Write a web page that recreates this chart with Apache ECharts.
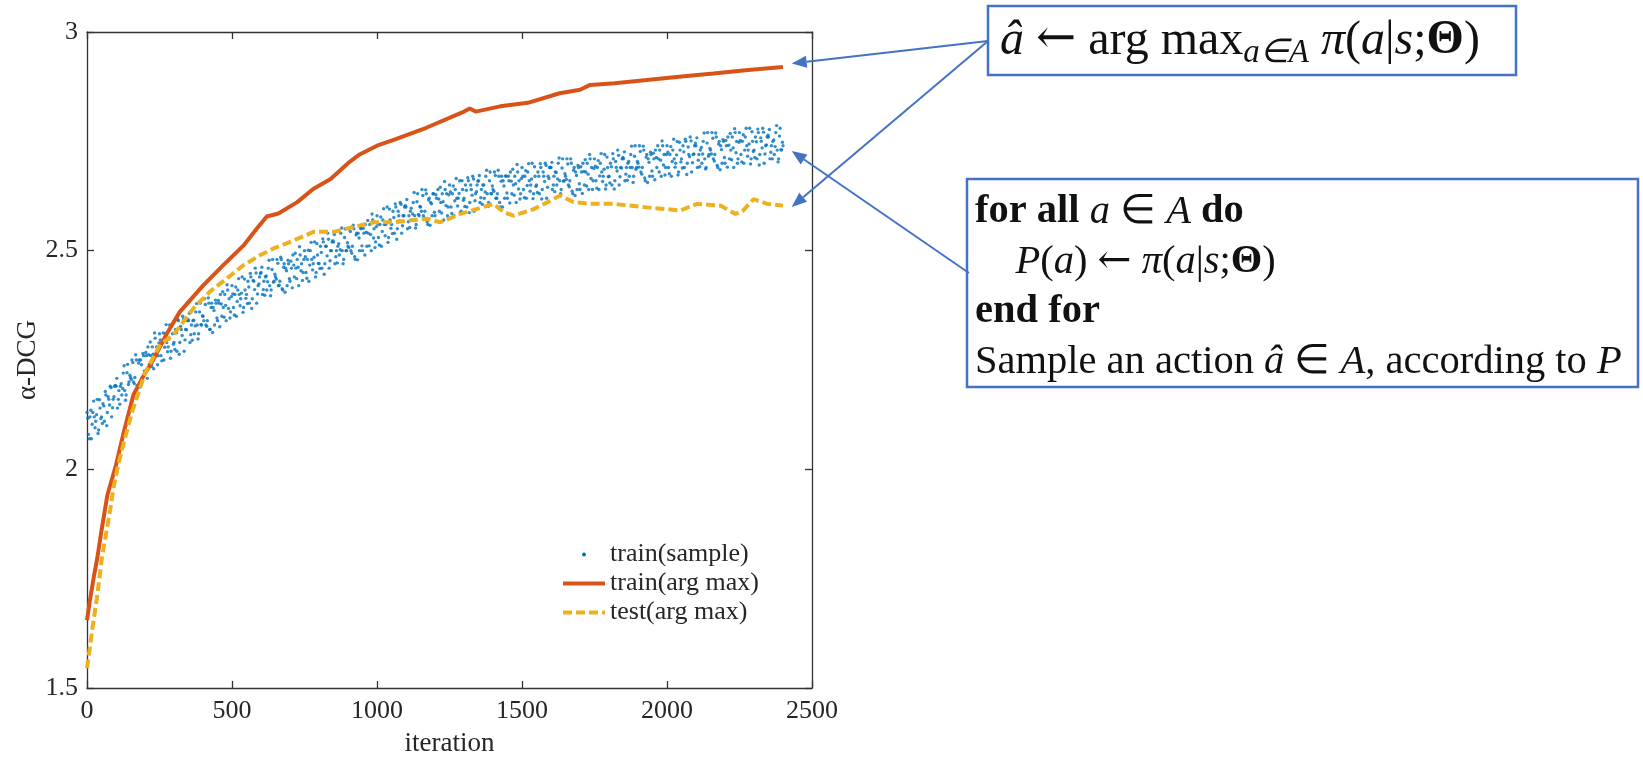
<!DOCTYPE html>
<html>
<head>
<meta charset="utf-8">
<script src="https://cdn.jsdelivr.net/npm/echarts@6/dist/echarts.min.js"></script>
<style>
html,body{margin:0;padding:0;background:#fff;}
#chart{width:1643px;height:762px;}
</style>
</head>
<body>
<div id="chart"></div>
<script>
// ---- data ----
const xTicks = [0, 500, 1000, 1500, 2000, 2500];
const yTicks = [1.5, 2, 2.5, 3];
const seriesNames = ['train(sample)', 'train(arg max)', 'test(arg max)'];

// train(sample): values at iterations 0,5,10,...,2400
const sampleStep = 5;
const sampleValues = [
 2.13,2.08,2.12,2.07,2.13,2.12,2.11,2.16,2.09,2.14,
 2.12,2.15,2.11,2.17,2.13,2.16,2.19,2.12,2.16,2.19,
 2.19,2.14,2.18,2.19,2.17,2.22,2.18,2.17,2.24,2.20,
 2.21,2.25,2.20,2.21,2.25,2.19,2.25,2.25,2.21,2.26,
 2.22,2.26,2.28,2.24,2.26,2.28,2.23,2.30,2.28,2.26,
 2.31,2.26,2.29,2.25,2.31,2.29,2.28,2.33,2.27,2.31,
 2.29,2.32,2.27,2.34,2.29,2.32,2.35,2.27,2.32,2.34,
 2.34,2.29,2.33,2.34,2.31,2.36,2.33,2.31,2.38,2.33,
 2.35,2.39,2.33,2.34,2.38,2.32,2.38,2.37,2.33,2.38,
 2.34,2.38,2.40,2.35,2.37,2.40,2.34,2.41,2.39,2.36,
 2.42,2.37,2.40,2.35,2.41,2.40,2.39,2.44,2.37,2.41,
 2.40,2.43,2.38,2.44,2.39,2.43,2.46,2.38,2.42,2.44,
 2.45,2.40,2.43,2.44,2.41,2.46,2.42,2.41,2.48,2.43,
 2.44,2.48,2.42,2.43,2.48,2.41,2.47,2.46,2.42,2.47,
 2.43,2.46,2.49,2.44,2.46,2.48,2.42,2.49,2.47,2.45,
 2.50,2.45,2.48,2.43,2.50,2.48,2.47,2.52,2.45,2.49,
 2.47,2.51,2.46,2.52,2.47,2.51,2.54,2.46,2.50,2.52,
 2.52,2.47,2.50,2.51,2.49,2.54,2.50,2.48,2.55,2.50,
 2.51,2.55,2.50,2.51,2.55,2.48,2.54,2.54,2.50,2.55,
 2.50,2.54,2.56,2.51,2.54,2.56,2.50,2.57,2.55,2.52,
 2.58,2.53,2.56,2.51,2.57,2.56,2.56,2.60,2.53,2.57,
 2.56,2.59,2.54,2.60,2.55,2.58,2.61,2.54,2.58,2.60,
 2.60,2.55,2.58,2.59,2.57,2.61,2.58,2.56,2.63,2.58,
 2.60,2.64,2.58,2.59,2.63,2.56,2.62,2.61,2.58,2.63,
 2.58,2.62,2.64,2.59,2.61,2.63,2.57,2.64,2.63,2.60,
 2.65,2.60,2.63,2.58,2.64,2.62,2.62,2.66,2.59,2.64,
 2.62,2.65,2.60,2.66,2.61,2.64,2.67,2.59,2.63,2.65,
 2.66,2.61,2.64,2.65,2.62,2.67,2.63,2.61,2.68,2.63,
 2.64,2.68,2.62,2.63,2.67,2.60,2.67,2.66,2.62,2.67,
 2.62,2.66,2.68,2.63,2.65,2.67,2.61,2.68,2.66,2.63,
 2.69,2.64,2.67,2.62,2.68,2.66,2.65,2.70,2.63,2.67,
 2.65,2.68,2.63,2.69,2.64,2.67,2.70,2.62,2.67,2.69,
 2.69,2.64,2.67,2.68,2.65,2.70,2.66,2.64,2.71,2.66,
 2.67,2.71,2.65,2.66,2.70,2.63,2.69,2.68,2.64,2.69,
 2.64,2.68,2.70,2.65,2.68,2.70,2.64,2.71,2.69,2.66,
 2.71,2.66,2.69,2.64,2.70,2.68,2.67,2.72,2.65,2.69,
 2.67,2.70,2.65,2.71,2.66,2.69,2.73,2.65,2.69,2.71,
 2.71,2.66,2.69,2.70,2.67,2.72,2.69,2.67,2.74,2.69,
 2.70,2.74,2.68,2.69,2.73,2.66,2.72,2.71,2.67,2.72,
 2.67,2.71,2.73,2.69,2.71,2.73,2.67,2.74,2.72,2.69,
 2.74,2.69,2.72,2.67,2.73,2.71,2.70,2.75,2.68,2.73,
 2.71,2.74,2.69,2.75,2.70,2.72,2.76,2.68,2.72,2.74,
 2.74,2.69,2.72,2.73,2.70,2.75,2.71,2.69,2.77,2.72,
 2.73,2.77,2.71,2.72,2.76,2.69,2.75,2.74,2.70,2.75,
 2.70,2.74,2.76,2.71,2.73,2.76,2.69,2.77,2.75,2.71,
 2.77,2.72,2.75,2.70,2.76,2.74,2.73,2.78,2.71,2.75,
 2.73,2.76,2.71,2.77,2.72,2.75,2.78,2.70,2.74,2.76,
 2.76,2.71,2.74,2.75,2.72,2.77,2.73,2.71,2.78,2.73,
 2.74
];
// train(sample): more values at iterations 3,8,13,...,2398
const sampleOffsetB = 3;
const sampleValuesB = [
 2.117,2.070,2.135,2.103,2.156,2.095,2.125,2.082,2.159,2.116,
 2.105,2.145,2.178,2.100,2.166,2.147,2.187,2.141,2.166,2.192,
 2.208,2.160,2.149,2.196,2.185,2.237,2.158,2.221,2.194,2.215,
 2.206,2.244,2.196,2.262,2.192,2.243,2.188,2.239,2.265,2.225,
 2.267,2.208,2.262,2.291,2.235,2.263,2.312,2.259,2.239,2.289,
 2.296,2.248,2.312,2.279,2.331,2.269,2.298,2.254,2.330,2.286,
 2.274,2.312,2.343,2.263,2.327,2.306,2.344,2.296,2.319,2.343,
 2.357,2.308,2.295,2.341,2.328,2.379,2.298,2.360,2.331,2.351,
 2.340,2.377,2.327,2.392,2.320,2.370,2.313,2.363,2.387,2.346,
 2.386,2.326,2.378,2.406,2.348,2.375,2.422,2.368,2.346,2.395,
 2.401,2.353,2.417,2.384,2.436,2.374,2.403,2.359,2.435,2.391,
 2.379,2.417,2.448,2.368,2.432,2.411,2.449,2.401,2.424,2.448,
 2.462,2.411,2.398,2.442,2.429,2.478,2.397,2.457,2.428,2.446,
 2.435,2.471,2.421,2.485,2.413,2.462,2.405,2.454,2.478,2.436,
 2.476,2.415,2.467,2.494,2.436,2.462,2.509,2.454,2.432,2.480,
 2.486,2.437,2.501,2.467,2.519,2.456,2.485,2.440,2.516,2.471,
 2.459,2.496,2.527,2.446,2.510,2.488,2.526,2.477,2.500,2.523,
 2.537,2.486,2.472,2.516,2.502,2.552,2.470,2.530,2.500,2.518,
 2.507,2.544,2.494,2.558,2.486,2.536,2.479,2.529,2.552,2.511,
 2.551,2.490,2.542,2.569,2.511,2.537,2.584,2.529,2.507,2.555,
 2.561,2.513,2.577,2.544,2.596,2.534,2.563,2.519,2.595,2.551,
 2.539,2.576,2.607,2.526,2.590,2.568,2.606,2.557,2.580,2.603,
 2.617,2.566,2.553,2.597,2.584,2.633,2.552,2.612,2.583,2.601,
 2.590,2.626,2.575,2.639,2.566,2.616,2.558,2.607,2.630,2.588,
 2.628,2.567,2.618,2.645,2.586,2.612,2.658,2.603,2.580,2.628,
 2.634,2.585,2.648,2.614,2.665,2.602,2.631,2.587,2.660,2.615,
 2.601,2.638,2.667,2.587,2.650,2.627,2.664,2.614,2.635,2.659,
 2.672,2.621,2.606,2.650,2.634,2.684,2.601,2.660,2.631,2.648,
 2.636,2.672,2.620,2.684,2.610,2.659,2.600,2.648,2.671,2.632,
 2.670,2.609,2.659,2.686,2.627,2.653,2.697,2.641,2.618,2.665,
 2.670,2.621,2.683,2.649,2.699,2.636,2.664,2.619,2.692,2.647,
 2.633,2.670,2.699,2.618,2.680,2.658,2.695,2.645,2.665,2.690,
 2.702,2.650,2.635,2.679,2.664,2.712,2.630,2.689,2.659,2.676,
 2.663,2.698,2.646,2.710,2.636,2.684,2.626,2.672,2.695,2.653,
 2.692,2.631,2.681,2.708,2.648,2.675,2.720,2.665,2.640,2.688,
 2.693,2.643,2.706,2.671,2.722,2.658,2.686,2.641,2.714,2.669,
 2.655,2.692,2.722,2.641,2.704,2.682,2.718,2.669,2.689,2.713,
 2.726,2.675,2.661,2.704,2.690,2.739,2.656,2.716,2.686,2.704,
 2.691,2.727,2.675,2.739,2.666,2.714,2.656,2.702,2.725,2.682,
 2.723,2.662,2.713,2.740,2.680,2.707,2.751,2.696,2.673,2.720,
 2.725,2.676,2.738,2.704,2.755,2.691,2.719,2.673,2.748,2.703,
 2.689,2.726,2.755,2.674,2.737,2.715,2.751,2.701,2.721,2.746,
 2.758,2.707,2.692,2.736,2.721,2.769,2.687,2.746,2.716,2.734,
 2.721,2.757,2.705,2.769,2.695,2.744,2.685,2.731,2.754,2.713,
 2.752,2.691,2.741,2.768,2.708,2.735,2.779,2.724,2.700,2.748,
 2.752,2.703,2.765,2.730,2.780,2.716,2.744,2.698,2.772,2.727,
 2.713,2.749,2.778,2.696,2.758,2.735,2.771,2.721,2.742,2.764,
 2.777,2.725,2.710,2.753,2.738,2.786,2.703,2.762,2.731,2.748
];

// train(arg max)
const trainArgIter = [0,10,25,35,50,70,100,125,160,200,220,275,320,400,470,540,585,620,660,725,780,840,900,940,1000,1060,1170,1300,1320,1340,1425,1520,1630,1700,1735,1820,1930,2050,2160,2280,2400];
const trainArgVal  = [1.655,1.70,1.76,1.795,1.86,1.94,2.01,2.08,2.17,2.22,2.24,2.31,2.36,2.42,2.467,2.512,2.55,2.578,2.585,2.611,2.641,2.664,2.70,2.72,2.74,2.754,2.781,2.818,2.825,2.818,2.830,2.838,2.860,2.868,2.879,2.883,2.890,2.898,2.905,2.913,2.920];

// test(arg max)
const testArgIter = [0,17,34,52,80,92,109,126,155,200,253,299,368,425,483,540,598,643,701,781,850,919,988,1057,1172,1218,1287,1402,1437,1471,1540,1598,1632,1678,1735,1816,1931,2046,2103,2184,2236,2260,2299,2345,2400];
const testArgVal  = [1.545,1.628,1.705,1.80,1.908,1.96,2.014,2.059,2.13,2.22,2.286,2.308,2.369,2.407,2.437,2.467,2.49,2.505,2.52,2.543,2.543,2.554,2.565,2.565,2.573,2.565,2.584,2.607,2.588,2.580,2.595,2.614,2.626,2.611,2.607,2.607,2.599,2.592,2.607,2.603,2.584,2.59,2.618,2.607,2.603];

// arrow targets (data coords) just past the end of each curve
const arrowTargets = { trainArg: [2430, 2.928], testArg: [2430, 2.600], sample: [2430, 2.728] };

// ---- chart ----
const FONT = 'Liberation Serif';
const AX = '#333333';
const chart = echarts.init(document.getElementById('chart'), null, { renderer: 'canvas' });

const xBase = { type: 'value', min: xTicks[0], max: xTicks[xTicks.length - 1], interval: 500,
  axisLine: { show: true, onZero: false, lineStyle: { color: AX, width: 1.3 } },
  axisTick: { show: true, inside: true, length: 7, lineStyle: { color: AX, width: 1.3 } },
  splitLine: { show: false } };
const yBase = { type: 'value', min: yTicks[0], max: yTicks[yTicks.length - 1], interval: 0.5,
  axisLine: { show: true, onZero: false, lineStyle: { color: AX, width: 1.3 } },
  axisTick: { show: true, inside: true, length: 7, lineStyle: { color: AX, width: 1.3 } },
  splitLine: { show: false } };

const scatterData = sampleValues.map((v, i) => [i * sampleStep, v])
  .concat(sampleValuesB.map((v, i) => [i * sampleStep + sampleOffsetB, v]));

chart.setOption({
  animation: false,
  backgroundColor: '#ffffff',
  grid: { left: 87, right: 831, top: 32, bottom: 69, containLabel: false },
  xAxis: [
    Object.assign({}, xBase, { position: 'bottom', name: 'iteration', nameLocation: 'middle', nameGap: 42,
      nameTextStyle: { fontFamily: FONT, fontSize: 27, color: '#262626' },
      axisLabel: { margin: 10, fontFamily: FONT, fontSize: 26, color: '#262626', formatter: v => String(v) } }),
    Object.assign({}, xBase, { position: 'top', axisLabel: { show: false } })
  ],
  yAxis: [
    Object.assign({}, yBase, { position: 'left', name: 'α-DCG', nameLocation: 'middle', nameGap: 44, nameRotate: 90,
      nameTextStyle: { fontFamily: FONT, fontSize: 27, color: '#262626' },
      axisLabel: { margin: 9, fontFamily: FONT, fontSize: 26, color: '#262626', formatter: v => String(v) } }),
    Object.assign({}, yBase, { position: 'right', axisLabel: { show: false } })
  ],
  legend: {
    orient: 'vertical', left: 556, top: 535, itemWidth: 42, itemHeight: 4, itemGap: 0,
    textStyle: { fontFamily: FONT, fontSize: 26, color: '#262626', lineHeight: 29 },
    itemStyle: { opacity: 0 },
    lineStyle: { width: 4 },
    data: [
      { name: seriesNames[0], icon: 'circle', itemStyle: { opacity: 1, color: '#0072BD' } },
      { name: seriesNames[1] },
      { name: seriesNames[2] }
    ]
  },
  series: [
    { name: seriesNames[0], type: 'scatter', xAxisIndex: 0, yAxisIndex: 0, z: 1,
      symbolSize: 3.4, itemStyle: { color: '#0072BD' },
      data: scatterData },
    { name: seriesNames[1], type: 'line', xAxisIndex: 0, yAxisIndex: 0, z: 3,
      symbol: 'none', showSymbol: false, itemStyle: { color: '#D95319' },
      lineStyle: { color: '#D95319', width: 4 },
      data: trainArgIter.map((x, i) => [x, trainArgVal[i]]) },
    { name: seriesNames[2], type: 'line', xAxisIndex: 0, yAxisIndex: 0, z: 4,
      symbol: 'none', showSymbol: false, itemStyle: { color: '#EDB120' },
      lineStyle: { color: '#EDB120', width: 4, type: [9, 4] },
      data: testArgIter.map((x, i) => [x, testArgVal[i]]) }
  ]
});

// ---- annotations (boxes + arrows) ----
const BLUE = '#4472C4';
function arrow(sx, sy, tx, ty) {
  const dx = tx - sx, dy = ty - sy, L = Math.sqrt(dx * dx + dy * dy);
  const ux = dx / L, uy = dy / L, nx = -uy, ny = ux;
  const hl = 15, hw = 6;
  const bx = tx - ux * hl, by = ty - uy * hl;
  return [
    { type: 'line', shape: { x1: sx, y1: sy, x2: bx, y2: by }, style: { stroke: BLUE, lineWidth: 2 }, z: 100 },
    { type: 'polygon', shape: { points: [[tx, ty], [bx + nx * hw, by + ny * hw], [bx - nx * hw, by - ny * hw]] },
      style: { fill: BLUE }, z: 100 }
  ];
}
const pRed = chart.convertToPixel({ gridIndex: 0 }, arrowTargets.trainArg);
const pYel = chart.convertToPixel({ gridIndex: 0 }, arrowTargets.testArg);
const pBlu = chart.convertToPixel({ gridIndex: 0 }, arrowTargets.sample);

const F1 = 48, F2 = 40.5;
const rich1 = {
  r: { fontFamily: FONT, fontSize: F1, color: '#111' },
  i: { fontFamily: FONT, fontSize: F1, fontStyle: 'italic', color: '#111' },
  b: { fontFamily: FONT, fontSize: F1, fontWeight: 'bold', color: '#111' },
  ar: { fontFamily: 'DejaVu Serif', fontSize: F1, color: '#111' },
  sub: { fontFamily: FONT, fontSize: 33, fontStyle: 'italic', color: '#111', padding: [24, 0, 0, 0] }
};
const rich2 = {
  r: { fontFamily: FONT, fontSize: F2, color: '#111', lineHeight: 50 },
  i: { fontFamily: FONT, fontSize: F2, fontStyle: 'italic', color: '#111', lineHeight: 50 },
  b: { fontFamily: FONT, fontSize: F2, fontWeight: 'bold', color: '#111', lineHeight: 50 },
  ar: { fontFamily: 'DejaVu Serif', fontSize: F2, color: '#111', lineHeight: 50 }
};

const graphics = [
  { type: 'rect', shape: { x: 988, y: 6, width: 528, height: 69 }, style: { fill: '#fff', stroke: BLUE, lineWidth: 2.5 }, z: 90 },
  { type: 'rect', shape: { x: 967, y: 179, width: 671, height: 208 }, style: { fill: '#fff', stroke: BLUE, lineWidth: 2.5 }, z: 90 },
  { type: 'text', x: 1000, y: 41, z: 95,
    style: { text: '{i|â} {ar|←} {r|arg max}{sub|a∈A} {i|π}{r|(}{i|a}{r||}{i|s}{r|;}{b|Θ}{r|)}',
      fontFamily: FONT, fontSize: F1, fill: '#111',
      rich: rich1, verticalAlign: 'middle', align: 'left' } },
  { type: 'text', x: 975, y: 187, z: 95,
    style: { text: '{b|for all} {i|a} {r|∈} {i|A} {b|do}\n{r|    }{i|P}{r|(}{i|a}{r|)} {ar|←} {i|π}{r|(}{i|a}{r||}{i|s}{r|;}{b|Θ}{r|)}\n{b|end for}\n{r|Sample an action} {i|â} {r|∈} {i|A}{r|, according to} {i|P}',
      fontFamily: FONT, fontSize: F2, fill: '#111', lineHeight: 50,
      rich: rich2, verticalAlign: 'top', align: 'left' } }
].concat(arrow(988, 41, pRed[0], pRed[1]))
 .concat(arrow(988, 41, pYel[0], pYel[1]))
 .concat(arrow(969, 273, pBlu[0], pBlu[1]));

chart.setOption({ graphic: graphics });
</script>
</body>
</html>
